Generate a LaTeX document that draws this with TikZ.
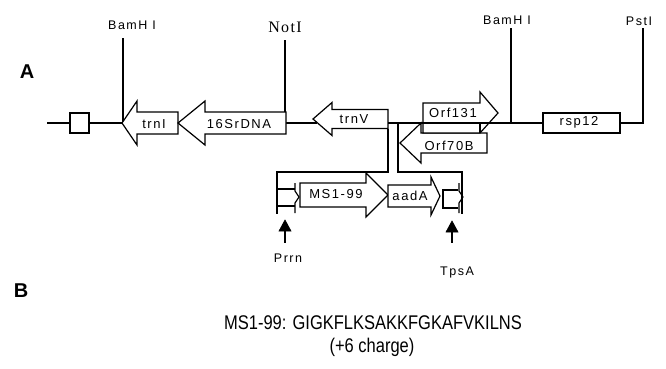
\documentclass[tikz,border=0pt]{standalone}
\usepackage{fontspec}
\setmainfont{Liberation Sans}
\newfontfamily\lblfont[LetterSpace=12]{Liberation Sans}
\newfontfamily\seriflbl[LetterSpace=8]{Liberation Serif}
\begin{document}
\begin{tikzpicture}[x=1pt,y=-1pt,
  wire/.style={draw, line width=1.2pt},
  gene/.style={draw, line width=1.2pt, fill=white, line join=miter},
  lbl/.style={font=\lblfont\fontsize{13}{13}\selectfont, inner sep=0pt},
  sitelbl/.style={font=\lblfont\fontsize{12.5}{12.5}\selectfont, inner sep=0pt},
  notlbl/.style={font=\seriflbl\fontsize{16}{16}\selectfont, inner sep=0pt},
  panel/.style={font=\bfseries\fontsize{20}{20}\selectfont, inner sep=0pt},
  seqlbl/.style={font=\fontsize{16.5}{16.5}\selectfont, inner sep=0pt, yscale=1.2},
  marker/.style={fill=black, draw=black, line width=0.6pt}]
\useasboundingbox (0,0) rectangle (666,368);

% ---- coordinates on the main line
\coordinate (start) at (47,123);
\coordinate (boxL) at (70,123);
\coordinate (boxR) at (89,123);
\coordinate (trnItip) at (122,123);
\coordinate (s16R) at (286,123);
\coordinate (trnVin) at (317,123);
\coordinate (trnVR) at (388,123);
\coordinate (rspL) at (543,123);
\coordinate (rspR) at (620,123);
\coordinate (pstB) at (643,123);
\coordinate (pstT) at (643,28);
\coordinate (bam1T) at (123,38);
\coordinate (bam1B) at (123,122);
\coordinate (notT) at (285,40);
\coordinate (notB) at (285,112);
\coordinate (bam2T) at (511,28);
\coordinate (bam2B) at (511,123);

% ---- main line
\draw[wire] (start) -- (boxL);
\draw[wire] (boxR) -- (trnItip);
\draw[wire] (s16R) -- (trnVin);
\draw[wire] (rspR) -- (pstB) -- (pstT);
\draw[wire] (bam1T) -- (bam1B);
\draw[wire] (notT) -- (notB);
\draw[wire] (bam2T) -- (bam2B);

% ---- boxes
\draw[gene] (70,113) rectangle (89,133);
\draw[gene] (543,113) rectangle (620,133);

% ---- genes on the main line
\draw[gene] (122,123) -- (137,101) -- (137,112) -- (178,112) -- (178,134) -- (137,134) -- (137,145) -- cycle;
\draw[gene] (178,123) -- (205,101) -- (205,112) -- (286,112) -- (286,134) -- (205,134) -- (205,145) -- cycle;
\draw[gene] (313,119) -- (332,102.5) -- (332,109.5) -- (388,109.5) -- (388,128.5) -- (332,128.5) -- (332,135.5) -- cycle;
\draw[gene] (400,143) -- (421,123) -- (421,133) -- (487,133) -- (487,153) -- (421,153) -- (421,163) -- cycle;
\draw[gene] (423,103) -- (480,103) -- (480,92) -- (498,113) -- (480,133) -- (423,133) -- cycle;
\draw[wire] (480,123) -- (480,133);
\draw[wire] (trnVR) -- (rspL);

% ---- insertion bracket
\draw[wire] (388,128.5) -- (388,172) -- (277,172) -- (277,214);
\draw[wire] (398,123) -- (398,172) -- (462,172) -- (462,214);

% ---- cassette
\draw[wire] (277,189) -- (295,189);
\draw[wire] (277,206) -- (295,206);
\draw[wire, line join=miter] (295,183) -- (295,191) -- (299,197) -- (295,203) -- (295,213);
\draw[gene] (300,183) -- (366,183) -- (366,173) -- (388,195) -- (366,217) -- (366,207) -- (300,207) -- cycle;
\draw[gene] (388,185) -- (431,185) -- (431,177) -- (440,196) -- (431,215) -- (431,207) -- (388,207) -- cycle;
\draw[wire] (458,190) -- (443,190) -- (443,208) -- (458,208);
\draw[wire, line join=miter] (459,183) -- (459,191) -- (463,197) -- (459,203) -- (459,213);

% ---- markers
\draw[marker] (285,220) -- (291,231) -- (279,231) -- cycle;
\coordinate (prrnA) at (285,231);
\coordinate (prrnB) at (285,243);
\draw[line width=1.2pt] (prrnA) -- (prrnB);
\draw[marker] (452,221) -- (458,232) -- (446,232) -- cycle;
\coordinate (tpsA1) at (452,232);
\coordinate (tpsA2) at (452,243);
\draw[line width=1.2pt] (tpsA1) -- (tpsA2);

% ---- labels
\node[panel] (pA) at (27,72) {A};
\node[panel] (pB) at (21,291) {B};
\node[sitelbl] (lbam1) at (132,25) {BamH I};
\node[notlbl] (lnot) at (285,27) {NotI};
\node[sitelbl] (lbam2) at (507,20) {BamH I};
\node[sitelbl] (lpst) at (639,21) {PstI};
\node[lbl] (ltrnI) at (154,124) {trnI};
\node[lbl] (l16S) at (239,124) {16SrDNA};
\node[lbl] (ltrnV) at (354,119) {trnV};
\node[lbl] (lorf131) at (453,112.5) {Orf131};
\node[lbl] (lorf70) at (449,146) {Orf70B};
\node[lbl] (lrsp) at (579,122) {rsp12};
\node[lbl] (lms) at (336,194.5) {MS1-99};
\node[lbl] (laad) at (410,196) {aadA};
\node[sitelbl] (lprrn) at (288,258) {Prrn};
\node[sitelbl] (ltps) at (457,272) {TpsA};
\node[seqlbl] (seq) at (373,323) {MS1-99: GIGKFLKSAKKFGKAFVKILNS};
\node[seqlbl] (chg) at (372,347) {(+6 charge)};
\end{tikzpicture}
\end{document}
